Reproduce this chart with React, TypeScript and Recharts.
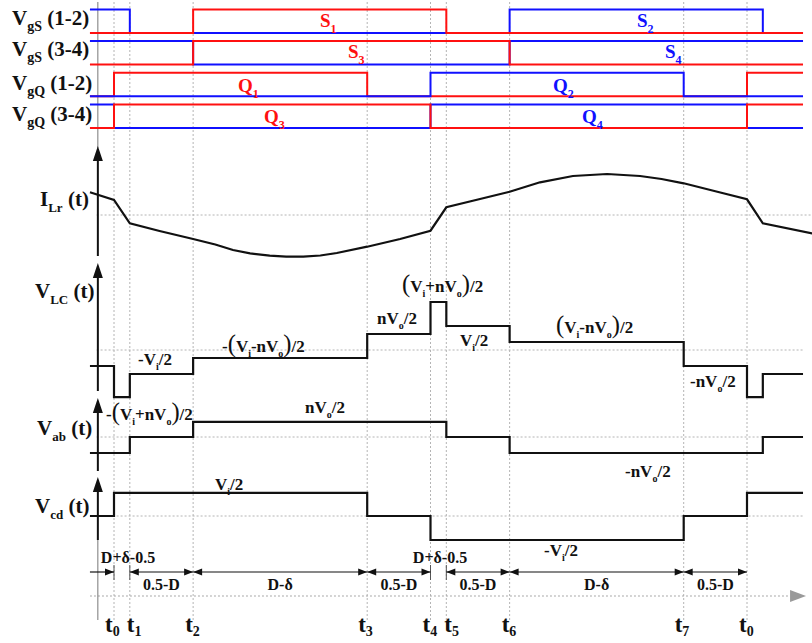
import React from 'react'
import { LineChart, Line, XAxis, YAxis, ReferenceLine, ReferenceDot } from 'recharts'

const W = 812
const H = 643

// time runs in % of one switching period (t0 -> t0' = 100)
const PX_PER_T = 6.33
const X_MIN = -114 / PX_PER_T
const X_MAX = X_MIN + W / PX_PER_T
const tx = (t: number) => (t - X_MIN) * PX_PER_T

const T_START = -3.8
const T_END = 108.85
const T_AXIS = -2.55

// switching instants t0 .. t7, t0
const T_MARKS = [0, 2.5, 12.5, 40, 50, 52.5, 62.5, 90, 100]
const T_NAMES = ['0', '1', '2', '3', '4', '5', '6', '7', '0']

// gate drive signals, [time, on/off]
const S1 = [[T_START, 0], [12.5, 1], [52.5, 0], [T_END, 0]]
const S2 = [[T_START, 1], [2.5, 0], [62.5, 1], [102.5, 0], [T_END, 0]]
const S3 = [[T_START, 0], [12.5, 1], [62.5, 0], [T_END, 0]]
const S4 = [[T_START, 1], [12.5, 0], [62.5, 1], [T_END, 1]]
const Q1 = [[T_START, 0], [0, 1], [40, 0], [100, 1], [T_END, 1]]
const Q2 = [[T_START, 0], [50, 1], [90, 0], [T_END, 0]]
const Q3 = [[T_START, 0], [0, 1], [50, 0], [100, 1], [T_END, 1]]
const Q4 = [[T_START, 1], [0, 0], [50, 1], [100, 0], [T_END, 0]]

// resonant current (arb. units)
const ILR_T = [-3.8, 0, 2.5, 7.2, 12.5, 16, 18.8, 21.5, 24.6, 27.2, 29.9, 32.6, 35.2, 40, 45.2, 50, 52.5, 57.5, 62.5, 67.3, 72.5, 77.9, 83.1, 86.5, 90, 95, 100, 102.5, 110.3]
const ILR_V = [2.27, 1.5, -0.83, -1.6, -2.4, -2.95, -3.5, -3.83, -4.07, -4.17, -4.17, -4.05, -3.8, -3.17, -2.4, -1.57, 0.77, 1.55, 2.33, 3.27, 3.9, 4.1, 3.9, 3.6, 3.17, 2.37, 1.57, -0.83, -1.83]

// bridge / tank voltages (arb. units), [time, level]
const VLC = [[T_START, -2], [0, -5.9], [2.5, -3], [12.5, -1], [40, 2], [50, 6], [52.5, 3], [62.5, 1], [90, -2], [100, -5.9], [102.5, -3], [T_END, -3]]
const VAB = [[T_START, -2], [2.5, 0], [12.5, 1.9], [52.5, 0], [62.5, -2], [102.5, 0], [T_END, 0]]
const VCD = [[T_START, 0], [0, 2.9], [40, 0], [50, -3], [90, 0], [100, 2.9], [T_END, 2.9]]

// interval annotations
const DIM_FROM = [T_START, 2.5, 12.5, 40, 52.5, 62.5, 90]
const DIM_TO = [0, 12.5, 40, 50, 62.5, 90, 100]
const DIM_LABEL = ['', '0.5-D', 'D-δ', '0.5-D', '0.5-D', 'D-δ', '0.5-D']

const pts = (rows: number[][]) => rows.map(([t, v]) => ({ t, v }))
const ilr = ILR_T.map((t, i) => ({ t, v: ILR_V[i] }))

// value -> pixel mapping per trace: zero line (px) and px per unit
const dom = (zero: number, k: number) => [-(H - zero) / k, zero / k]

const RED = '#ff1010'
const BLUE = '#1010ff'
const INK = '#111'
const GRID = '#b4b4b4'
const FONT = "'Liberation Serif', 'Times New Roman', serif"

const ROW_LOW = [33, 64.5, 96.3, 128]
const GATE_AMP = 23.5
const GATE_ROWS = [
  { blue: S2, red: S1, redTop: true },
  { blue: S4, red: S3, redTop: true },
  { blue: Q2, red: Q1, redTop: false },
  { blue: Q4, red: Q3, redTop: true },
]

const ILR_ZERO = 215
const VLC_ZERO = 350
const VAB_ZERO = 437
const VCD_ZERO = 516
const DIM_Y = 572
const TAXIS_Y = 596

function Rich({ x, y, text, size, sub, anchor = 'start', fill = INK, big = false, drop = 0.3 }: any) {
  const re = /_\{([^}]*)\}|([()])|([^_()]+)/g
  const parts: any[] = []
  const shift = size * drop
  let off = 0
  let m: any
  let i = 0
  while ((m = re.exec(text))) {
    if (m[1] !== undefined) {
      parts.push(<tspan key={i++} fontSize={sub} dy={shift - off}>{m[1]}</tspan>)
      off = shift
    } else if (m[2]) {
      parts.push(
        <tspan key={i++} fontSize={big ? size * 1.45 : size} fontWeight={big ? 'normal' : 'bold'} dy={-off}>{m[2]}</tspan>
      )
      off = 0
    } else {
      parts.push(<tspan key={i++} fontSize={size} dy={-off}>{m[3]}</tspan>)
      off = 0
    }
  }
  return (
    <text x={x} y={y} textAnchor={anchor} fontFamily={FONT} fontWeight="bold" fontSize={size} fill={fill} style={{ whiteSpace: 'pre' }}>
      {parts}
    </text>
  )
}

const upArrow = (p: any) => (
  <polygon points={`${p.cx},${p.cy} ${p.cx - 5},${p.cy + 15} ${p.cx + 5},${p.cy + 15}`} fill={INK} />
)
const headR = (p: any) => (
  <polygon points={`${p.cx},${p.cy} ${p.cx - 9},${p.cy - 3.5} ${p.cx - 9},${p.cy + 3.5}`} fill={INK} />
)
const headL = (p: any) => (
  <polygon points={`${p.cx},${p.cy} ${p.cx + 9},${p.cy - 3.5} ${p.cx + 9},${p.cy + 3.5}`} fill={INK} />
)
const grayHead = (p: any) => (
  <polygon points={`${p.cx},${p.cy - 6} ${p.cx + 16},${p.cy} ${p.cx},${p.cy + 6}`} fill="#9a9a9a" />
)

export default function App() {
  const gateAxes = ROW_LOW.map((low, i) => (
    <YAxis key={`ya${i}`} yAxisId={`g${i}`} type="number" domain={dom(low, GATE_AMP)} allowDataOverflow hide />
  ))
  const gateLines: any[] = []
  GATE_ROWS.forEach((row, i) => {
    const blue = (
      <Line key={`b${i}`} yAxisId={`g${i}`} data={pts(row.blue)} dataKey="v" type="stepAfter" stroke={BLUE}
        strokeWidth={2} dot={false} activeDot={false} isAnimationActive={false} />
    )
    const red = (
      <Line key={`r${i}`} yAxisId={`g${i}`} data={pts(row.red)} dataKey="v" type="stepAfter" stroke={RED}
        strokeWidth={2} dot={false} activeDot={false} isAnimationActive={false} />
    )
    if (row.redTop) gateLines.push(blue, red)
    else gateLines.push(red, blue)
  })

  const grid = T_MARKS.map((t, i) => (
    <ReferenceLine key={`vg${i}`} yAxisId="frame" segment={[{ x: t, y: 2 }, { x: t, y: 622 }]}
      stroke={GRID} strokeDasharray="2 2" strokeWidth={1} />
  ))
  const zeros = [
    [ILR_ZERO, 110.2],
    [VLC_ZERO, T_END],
    [VAB_ZERO, T_END],
    [VCD_ZERO, T_END],
  ].map(([y, end], i) => (
    <ReferenceLine key={`hz${i}`} yAxisId="frame" segment={[{ x: T_AXIS - 0.2, y }, { x: end, y }]}
      stroke={GRID} strokeDasharray="2 2" strokeWidth={1} />
  ))

  const axisSegs = [[160, 256], [277, 391], [412, 471], [492, 540]].map(([a, b], i) => (
    <ReferenceLine key={`ax${i}`} yAxisId="frame" segment={[{ x: T_AXIS, y: a }, { x: T_AXIS, y: b }]}
      stroke={INK} strokeWidth={2} />
  ))
  const axisThin = [[2, 148], [540, 620]].map(([a, b], i) => (
    <ReferenceLine key={`at${i}`} yAxisId="frame" segment={[{ x: T_AXIS, y: a }, { x: T_AXIS, y: b }]}
      stroke="#777" strokeWidth={1} />
  ))
  const axisHeads = [146, 263, 398, 477].map((y, i) => (
    <ReferenceDot key={`ah${i}`} yAxisId="frame" x={T_AXIS} y={y} r={0} shape={upArrow} />
  ))

  const dims: any[] = []
  DIM_FROM.forEach((a, i) => {
    const b = DIM_TO[i]
    dims.push(
      <ReferenceLine key={`dl${i}`} yAxisId="frame" segment={[{ x: a, y: DIM_Y }, { x: b, y: DIM_Y }]}
        stroke={INK} strokeWidth={1.2} />
    )
    dims.push(<ReferenceDot key={`dr${i}`} yAxisId="frame" x={b} y={DIM_Y} r={0} shape={headR} />)
    if (i > 0) dims.push(<ReferenceDot key={`dh${i}`} yAxisId="frame" x={a} y={DIM_Y} r={0} shape={headL} />)
  })
  const ticks = [0, 2.5, 50, 52.5].map((t, i) => (
    <ReferenceLine key={`tk${i}`} yAxisId="frame" segment={[{ x: t, y: 565 }, { x: t, y: 580 }]}
      stroke="#555" strokeWidth={1} />
  ))

  const tickNudge = [-9, -3, -8, -9, -8, -2, -8, -9, -8]

  return (
    <div style={{ position: 'absolute', left: 0, top: 0, width: W, height: H, background: '#fff' }}>
      <LineChart width={W} height={H} margin={{ top: 0, right: 0, bottom: 0, left: 0 }}>
        <XAxis dataKey="t" type="number" domain={[X_MIN, X_MAX]} allowDataOverflow hide />
        <YAxis yAxisId="frame" type="number" domain={[0, H]} reversed allowDataOverflow hide />
        {gateAxes}
        <YAxis yAxisId="ilr" type="number" domain={dom(ILR_ZERO, 10)} allowDataOverflow hide />
        <YAxis yAxisId="vlc" type="number" domain={dom(VLC_ZERO, 8)} allowDataOverflow hide />
        <YAxis yAxisId="vab" type="number" domain={dom(VAB_ZERO, 8)} allowDataOverflow hide />
        <YAxis yAxisId="vcd" type="number" domain={dom(VCD_ZERO, 8)} allowDataOverflow hide />
        {grid}
        {zeros}
        <ReferenceLine yAxisId="frame" segment={[{ x: T_START, y: TAXIS_Y }, { x: 106.8, y: TAXIS_Y }]}
          stroke="#a8a8a8" strokeDasharray="2 2" strokeWidth={1.2} />
        <ReferenceDot yAxisId="frame" x={106.8} y={TAXIS_Y} r={0} shape={grayHead} />
        {axisThin}
        {axisSegs}
        {axisHeads}
        {ticks}
        {dims}
        {gateLines}
        <Line yAxisId="ilr" data={ilr} dataKey="v" type="linear" stroke={INK} strokeWidth={2.2}
          dot={false} activeDot={false} isAnimationActive={false} />
        <Line yAxisId="vlc" data={pts(VLC)} dataKey="v" type="stepAfter" stroke={INK} strokeWidth={2.2}
          dot={false} activeDot={false} isAnimationActive={false} />
        <Line yAxisId="vab" data={pts(VAB)} dataKey="v" type="stepAfter" stroke={INK} strokeWidth={2.2}
          dot={false} activeDot={false} isAnimationActive={false} />
        <Line yAxisId="vcd" data={pts(VCD)} dataKey="v" type="stepAfter" stroke={INK} strokeWidth={2.2}
          dot={false} activeDot={false} isAnimationActive={false} />
      </LineChart>

      <svg width={W} height={H} style={{ position: 'absolute', left: 0, top: 0, pointerEvents: 'none' }}>
        {/* signal names */}
        <Rich x={12} y={25} text="V_{gS} (1-2)" size={21} sub={14} />
        <Rich x={12} y={56} text="V_{gS} (3-4)" size={21} sub={14} />
        <Rich x={12} y={90} text="V_{gQ} (1-2)" size={21} sub={14} />
        <Rich x={12} y={121} text="V_{gQ} (3-4)" size={21} sub={14} />
        <Rich x={40} y={206} text="I_{Lr} (t)" size={21} sub={13} />
        <Rich x={35} y={298} text="V_{LC} (t)" size={21} sub={13} />
        <Rich x={37} y={435} text="V_{ab} (t)" size={21} sub={13} />
        <Rich x={35} y={513} text="V_{cd} (t)" size={21} sub={13} />

        {/* switch names */}
        <Rich x={320} y={27} text="S_{1}" size={19} sub={12} fill={RED} />
        <Rich x={348} y={58} text="S_{3}" size={19} sub={12} fill={RED} />
        <Rich x={238} y={92} text="Q_{1}" size={19} sub={12} fill={RED} />
        <Rich x={264} y={123} text="Q_{3}" size={19} sub={12} fill={RED} />
        <Rich x={637} y={27} text="S_{2}" size={19} sub={12} fill={BLUE} />
        <Rich x={665} y={58} text="S_{4}" size={19} sub={12} fill={BLUE} />
        <Rich x={553} y={92} text="Q_{2}" size={19} sub={12} fill={BLUE} />
        <Rich x={582} y={123} text="Q_{4}" size={19} sub={12} fill={BLUE} />

        {/* level annotations */}
        <Rich x={138} y={365} text="-V_{i}/2" size={17} sub={10} big />
        <Rich x={222} y={352} text="-(V_{i}-nV_{o})/2" size={17} sub={10} big />
        <Rich x={377} y={324} text="nV_{o}/2" size={17} sub={10} big />
        <Rich x={402} y={292} text="(V_{i}+nV_{o})/2" size={17} sub={10} big />
        <Rich x={460} y={346} text="V_{i}/2" size={17} sub={10} big />
        <Rich x={556} y={333} text="(V_{i}-nV_{o})/2" size={17} sub={10} big />
        <Rich x={690} y={387} text="-nV_{o}/2" size={17} sub={10} big />
        <Rich x={106} y={420} text="-(V_{i}+nV_{o})/2" size={17} sub={10} big />
        <Rich x={305} y={413} text="nV_{o}/2" size={17} sub={10} big />
        <Rich x={625} y={477} text="-nV_{o}/2" size={17} sub={10} big />
        <Rich x={215} y={490} text="V_{i}/2" size={17} sub={10} big />
        <Rich x={544} y={556} text="-V_{i}/2" size={17} sub={10} big />

        {/* interval labels */}
        <Rich x={128} y={563} text="D+δ-0.5" size={16} sub={10} anchor="middle" />
        <Rich x={440} y={563} text="D+δ-0.5" size={16} sub={10} anchor="middle" />
        {DIM_LABEL.map((s, i) =>
          s ? <Rich key={`dt${i}`} x={tx((DIM_FROM[i] + DIM_TO[i]) / 2)} y={590} text={s} size={16} sub={10} anchor="middle" /> : null
        )}

        {/* instants */}
        {T_MARKS.map((t, i) => (
          <Rich key={`tn${i}`} x={tx(t) + tickNudge[i]} y={632} text={`t_{${T_NAMES[i]}}`} size={23} sub={14} drop={0.17} />
        ))}
      </svg>
    </div>
  )
}
